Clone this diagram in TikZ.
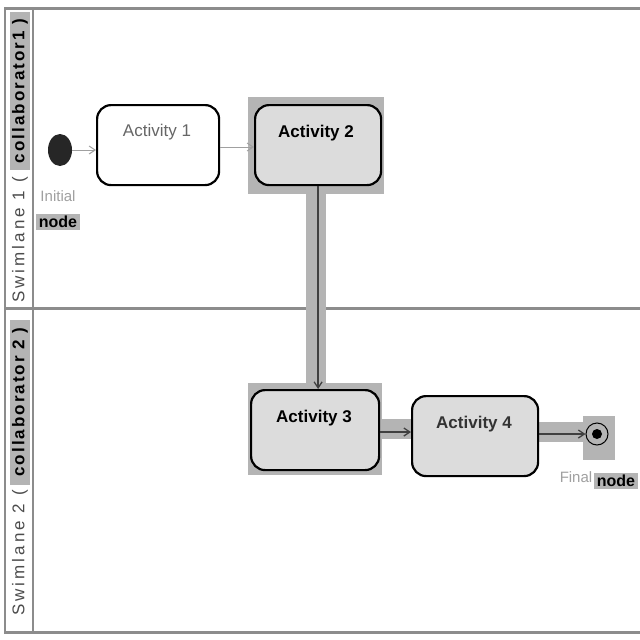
\documentclass[tikz,border=0pt]{standalone}
\usepackage{fontspec}
\setmainfont{Liberation Sans}
\usetikzlibrary{arrows.meta,shapes.geometric}
\definecolor{hl}{HTML}{B4B4B4}
\definecolor{actfill}{HTML}{DCDCDC}
\definecolor{frame}{HTML}{8C8C8C}
\definecolor{faint}{HTML}{A0A0A0}
\begin{document}
\begin{tikzpicture}[x=1pt,y=-1pt,
  act/.style={draw=black,line width=2.2pt,rounded corners=14pt,minimum width=#1,minimum height=80pt,inner sep=0pt,text depth=0pt,anchor=north west},
  hlbox/.style={fill=hl,draw=none},
  flow/.style={draw=black!75,line width=1.3pt,-{Straight Barb[length=6pt,width=8pt]}},
  band/.style={draw=hl,line width=20pt},
  acttext/.style={font=\fontsize{17}{17}\selectfont},
  lanetitle/.style={rotate=90,font=\fontsize{17}{17}\selectfont\addfontfeatures{LetterSpace=18},text=black!70},
  collab/.style={rotate=90,font=\bfseries\fontsize{17}{17}\selectfont\addfontfeatures{LetterSpace=12},inner sep=2pt},
  smalllab/.style={text=faint,font=\fontsize{15}{15}\selectfont},
  nodelab/.style={fill=hl,font=\bfseries\fontsize{16}{16}\selectfont,inner sep=2.5pt}
]
\useasboundingbox (0,0) rectangle (640,640);
\fill[white] (0,0) rectangle (640,640);
% frame
\draw[frame,line width=3pt] (4,8) -- (640,8);
\draw[frame,line width=3pt] (4,308) -- (640,308);
\draw[frame,line width=3pt] (4,632) -- (640,632);
\draw[frame,line width=1.5pt] (5,8) -- (5,634);
\draw[frame,line width=1.5pt] (33,8) -- (33,634);
% lane headers
\node[hlbox,minimum width=20pt,minimum height=158pt] (c1bg) at (20,91) {};
\node[collab] (c1) at (20,91) {collaborator1 )};
\node[lanetitle] (s1) at (20,240) {Swimlane 1 (};
\node[hlbox,minimum width=20pt,minimum height=165pt] (c2bg) at (20,402) {};
\node[collab] (c2) at (20,402) {collaborator 2 )};
\node[lanetitle] (s2) at (20,553) {Swimlane 2 (};
% initial node
\node[fill=black!85,ellipse,minimum width=24pt,minimum height=32pt,inner sep=0pt] (init) at (60,150) {};
\node[smalllab] (initl) at (58,196) {Initial};
\node[nodelab] (initn) at (58,222) {node};
% highlights
\fill[hl] (248,97) rectangle (384,194);
\fill[hl] (248,383) rectangle (382,475);
\fill[hl] (583,416) rectangle (615,460);
% bands
\draw[band] (316,190) -- (316,388);
\draw[band] (378,429) -- (412,429);
\draw[band] (537,432) -- (585,432);
% activities
\node[act=122pt,fill=white] (a1) at (96,104) {};
\node[acttext,text=black!60] at (157,132) {Activity 1};
\node[act=126pt,fill=actfill] (a2) at (254,104) {};
\node[acttext,font=\bfseries\fontsize{17}{17}\selectfont] at (316,133) {Activity 2};
\node[act=128pt,fill=actfill] (a3) at (250,389) {};
\node[acttext,font=\bfseries\fontsize{17}{17}\selectfont] at (314,418) {Activity 3};
\node[act=126pt,fill=actfill] (a4) at (411,395) {};
\node[acttext,text=black!80,font=\bfseries\fontsize{17}{17}\selectfont] at (474,424) {Activity 4};
% final node
\node[circle,draw=black,line width=1pt,minimum size=22pt,inner sep=0pt] (fin) at (597,434) {};
\node[circle,fill=black,minimum size=10pt,inner sep=0pt] (fini) at (597,434) {};
\node[smalllab] (finl) at (576,477) {Final};
\node[nodelab] (finn) at (616,481) {node};
% connectors
\draw[flow,draw=faint,line width=1pt] (init.east) -- (a1.west |- init.east);
\draw[flow,draw=faint,line width=1pt] (a1.east |- 0,147) -- (a2.west |- 0,147);
\draw[flow] (a2.south) -- (a3.north -| a2.south);
\draw[flow] (a3.east |- 0,432) -- (a4.west |- 0,432);
\draw[flow] (a4.east |- fin.west) -- (fin.west);
\end{tikzpicture}
\end{document}
